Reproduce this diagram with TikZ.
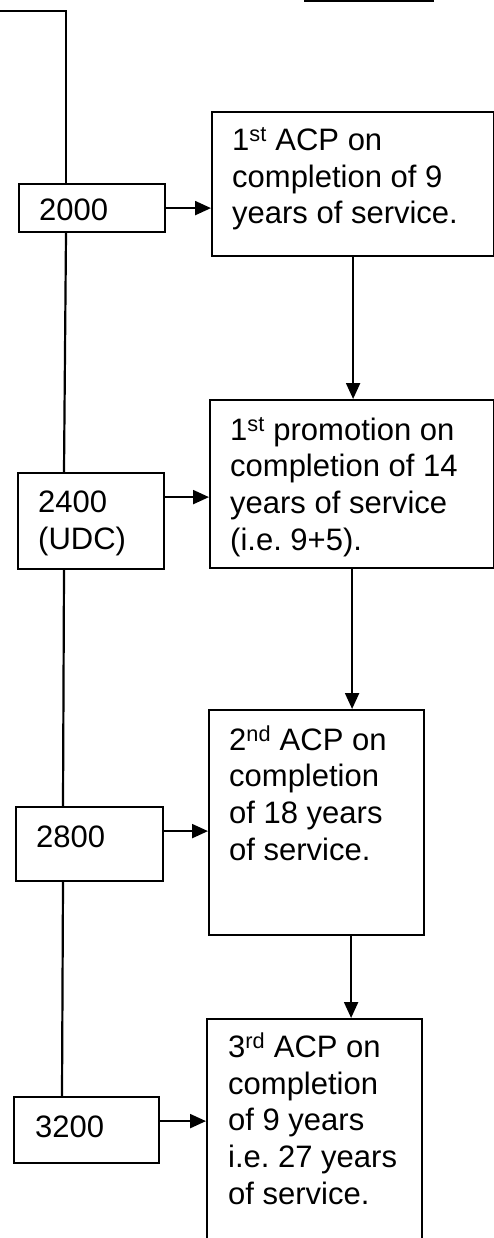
\documentclass[tikz,border=0pt]{standalone}
\usepackage{fontspec}
\setmainfont{Liberation Sans}
\usetikzlibrary{arrows.meta}
\begin{document}
\begin{tikzpicture}[x=1pt,y=-1pt,
  box/.style={draw,line width=2.2pt,inner sep=0pt,anchor=north west},
  txt/.style={anchor=base west,inner sep=0pt,align=left,font=\fontsize{31}{36.6}\selectfont},
  wire/.style={line width=2.2pt},
  arr/.style={line width=2.2pt,-{Triangle[length=16pt,width=14pt]}}]
\useasboundingbox (0,0) rectangle (494,1238);
\clip (0,0) rectangle (494,1238);
% boxes
\node[box,minimum width=146pt,minimum height=48pt] (b1) at (18,183) {};
\node[box,minimum width=282pt,minimum height=144pt] (a1) at (211,111) {};
\node[box,minimum width=146pt,minimum height=96pt] (b2) at (17,472) {};
\node[box,minimum width=284pt,minimum height=168pt] (a2) at (209,399) {};
\node[box,minimum width=147pt,minimum height=74pt] (b3) at (15,806) {};
\node[box,minimum width=215pt,minimum height=225pt] (a3) at (208,709) {};
\node[box,minimum width=145pt,minimum height=66pt] (b4) at (13,1096) {};
\node[box,minimum width=215pt,minimum height=260pt] (a4) at (206,1018) {};
% texts (base anchor = baseline of the last line)
\node[txt] (tb1) at (39,221) {2000};
\node[txt] (tb2) at (38,549) {2400\\(UDC)};
\node[txt] (tb3) at (36,847) {2800};
\node[txt] (tb4) at (35,1137) {3200};
\node[txt] (ta1) at (232,224) {1\textsuperscript{st} ACP on\\completion of 9\\years of service.};
\node[txt] (ta2) at (230,550) {1\textsuperscript{st} promotion on\\completion of 14\\years of service\\(i.e.\ 9+5).};
\node[txt] (ta3) at (229,860) {2\textsuperscript{nd} ACP on\\completion\\of 18 years\\of service.};
\node[txt] (ta4) at (228,1204) {3\textsuperscript{rd} ACP on\\completion\\of 9 years\\i.e.\ 27 years\\of service.};
% top wires
\coordinate (tl) at (0,11);
\coordinate (tr1) at (304,0.5);
\coordinate (tr2) at (434,0.5);
\draw[wire] (tl) -| ([xshift=48pt]b1.north west);
\draw[wire] (tr1) -- (tr2);
% left spine
\draw[wire] ([xshift=48pt]b1.south west) -- ([xshift=47pt]b2.north west);
\draw[wire] ([xshift=47pt]b2.south west) -- ([xshift=48pt]b3.north west);
\draw[wire] ([xshift=48pt]b3.south west) -- ([xshift=49pt]b4.north west);
% horizontal arrows
\draw[arr] (b1.east) -- (b1.east -| a1.west);
\draw[arr] ([yshift=24pt]b2.east) -- ([yshift=24pt]b2.east -| a2.west);
\draw[arr] ([yshift=13pt]b3.east) -- ([yshift=13pt]b3.east -| a3.west);
\draw[arr] ([yshift=9pt]b4.east) -- ([yshift=9pt]b4.east -| a4.west);
% vertical arrows
\draw[arr] (a1.south) -- (a1.south |- a2.north);
\draw[arr] (a2.south) -- (a2.south |- a3.north);
\draw[arr] ([xshift=-1pt]a2.south |- a3.south) -- ([xshift=-1pt]a2.south |- a4.north);
\end{tikzpicture}
\end{document}
